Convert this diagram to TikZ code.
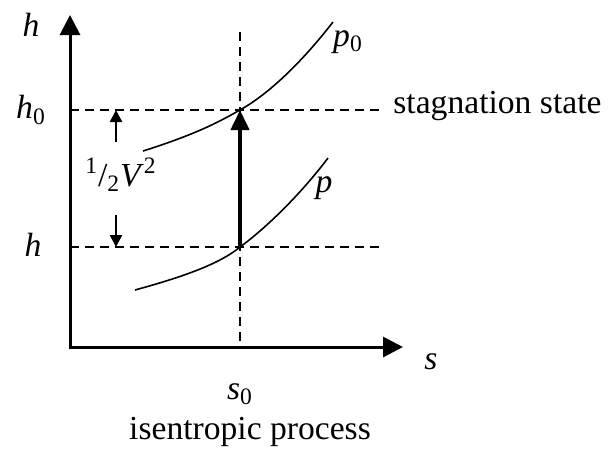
\documentclass[tikz,border=0pt]{standalone}
\usepackage{fontspec}
\setmainfont{Liberation Serif}
\usetikzlibrary{arrows.meta}
\begin{document}
\begin{tikzpicture}[x=0.5pt,y=-0.5pt,
  lbl/.style={inner sep=0pt,font=\fontsize{16.8}{20}\selectfont},
  axis/.style={line width=1.5pt,-{Triangle[length=10pt,width=10pt]}},
  guide/.style={line width=0.9pt,dash pattern=on 4.5pt off 3pt},
  curve/.style={line width=0.8pt},
  small/.style={line width=1.3pt,-{Triangle[length=6pt,width=6pt]}}]
\useasboundingbox (0,0) rectangle (608,457);
\coordinate (O) at (70,347);
\coordinate (ytip) at (70,15);
\coordinate (xtip) at (403,347);
\coordinate (A) at (240,247);
\coordinate (B) at (240,110);
\coordinate (h0l) at (70,110);
\coordinate (h0r) at (385,110);
\coordinate (hl) at (70,247);
\coordinate (hr) at (385,247);
\coordinate (vt) at (240,32);
\coordinate (vb) at (240,347);
\coordinate (ua) at (116,142);
\coordinate (ub) at (116,110);
\coordinate (da) at (116,215);
\coordinate (db) at (116,247);
% guides
\draw[guide] (h0l) -- (h0r);
\draw[guide] (hl) -- (hr);
\draw[guide] (vt) -- (vb);
% axes
\draw[axis] (O) -- (ytip);
\draw[axis] ([xshift=-0.75pt]O) -- (xtip);
% curves
\draw[curve] (143,151) .. controls (200,133) and (222,120) .. (B) .. controls (272,92) and (305,58) .. (333,22);
\draw[curve] (135,290) .. controls (190,275) and (222,262) .. (A) .. controls (266,228) and (300,195) .. (328,158);
% process arrow
\draw[line width=2pt,-{Triangle[length=10pt,width=9pt]}] (A) -- (B);
% small arrows
\draw[small] (ua) -- (ub);
\draw[small] (da) -- (db);
% labels
\node[lbl] (lh) at (31,25) {\textit{h}};
\node[lbl] (lh0) at (31,110) {\textit{h}\textsubscript{0}};
\node[lbl] (lhh) at (33,245) {\textit{h}};
\node[lbl,anchor=west] (lst) at (393,106) {stagnation state};
\node[lbl] (lp0) at (348,42) {\textit{p}\textsubscript{0}};
\node[lbl] (lp) at (324,188) {\textit{p}};
\node[lbl] (lv) at (121,175) {\textsuperscript{1}/\textsubscript{2}\textit{V}\textsuperscript{2}};
\node[lbl] (ls) at (431,362) {\textit{s}};
\node[lbl] (ls0) at (240,394) {\textit{s}\textsubscript{0}};
\node[lbl] (lip) at (250,432) {isentropic process};
\end{tikzpicture}
\end{document}
